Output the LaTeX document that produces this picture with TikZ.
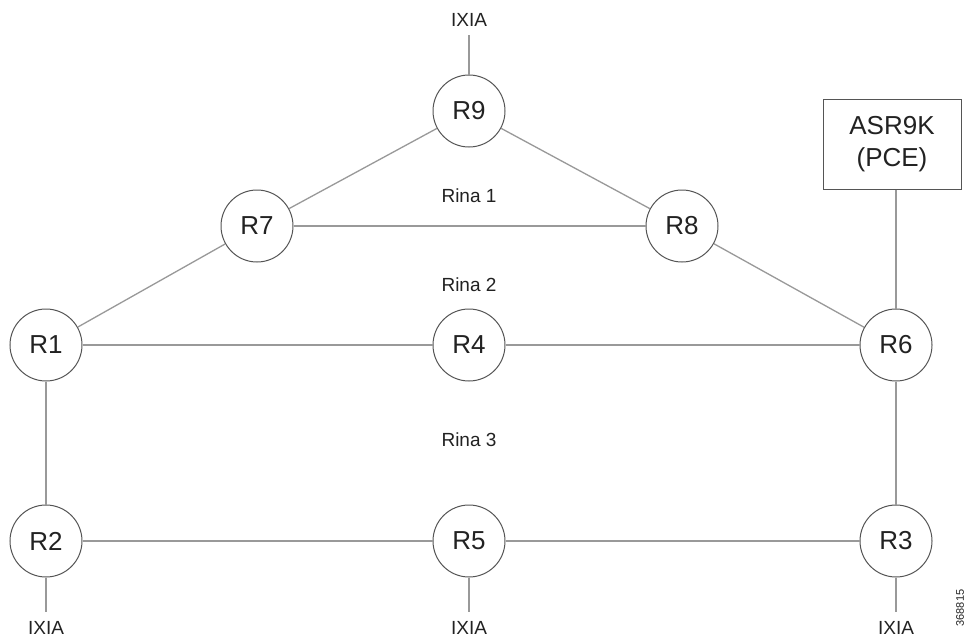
\documentclass[tikz,border=0pt]{standalone}
\usepackage{fontspec}
\setmainfont{Liberation Sans}
\definecolor{linkc}{HTML}{999999}
\definecolor{rimc}{HTML}{555555}
\definecolor{txtc}{HTML}{222222}
\begin{document}
\begin{tikzpicture}[x=1pt,y=-1pt,
  router/.style={circle,draw=rimc,line width=1pt,fill=white,minimum size=72pt,inner sep=0pt,font=\fontsize{26}{28}\selectfont,text=txtc},
  lbl/.style={font=\fontsize{19}{22}\selectfont,text=txtc,inner sep=0pt},
  link/.style={draw=linkc,line width=1.3pt},
  pcebox/.style={draw=rimc,line width=1pt,fill=white,minimum width=138pt,minimum height=90pt,align=center,font=\fontsize{26}{32}\selectfont,text=txtc,inner sep=0pt}]
\useasboundingbox (0,0) rectangle (966,640);
\fill[white] (0,0) rectangle (966,640);
% nodes
\node[router] (R9) at (469,111) {R9};
\node[router] (R7) at (257,226) {R7};
\node[router] (R8) at (682,226) {R8};
\node[router] (R1) at (46,345) {R1};
\node[router] (R4) at (469,345) {R4};
\node[router] (R6) at (896,345) {R6};
\node[router] (R2) at (46,541) {R2};
\node[router] (R5) at (469,541) {R5};
\node[router] (R3) at (896,541) {R3};
\node[pcebox] (pce) at (892,144) {ASR9K\\(PCE)};
% labels
\node[lbl] (ix9) at (469,20) {IXIA};
\node[lbl] (ix2) at (46,628) {IXIA};
\node[lbl] (ix5) at (469,628) {IXIA};
\node[lbl] (ix3) at (896,628) {IXIA};
\node[lbl] (rina1) at (469,196) {Rina 1};
\node[lbl] (rina2) at (469,285) {Rina 2};
\node[lbl] (rina3) at (469,440) {Rina 3};
\node[font=\fontsize{11}{12}\selectfont,text=txtc,rotate=90,inner sep=0pt] (fig) at (960,608) {368815};
% end points of IXIA stubs
\coordinate (t9) at (469,35);
\coordinate (t2) at (46,612);
\coordinate (t5) at (469,612);
\coordinate (t3) at (896,612);
% links
\draw[link] (R9) -- (R7);
\draw[link] (R9) -- (R8);
\draw[link] (R7) -- (R8);
\draw[link] (R7) -- (R1);
\draw[link] (R8) -- (R6);
\draw[link] (R1) -- (R4);
\draw[link] (R4) -- (R6);
\draw[link] (R1) -- (R2);
\draw[link] (R6) -- (R3);
\draw[link] (R2) -- (R5);
\draw[link] (R5) -- (R3);
\draw[link] (pce.south -| R6.north) -- (R6.north);
\draw[link] (t9) -- (R9.north);
\draw[link] (R2.south) -- (t2);
\draw[link] (R5.south) -- (t5);
\draw[link] (R3.south) -- (t3);
\end{tikzpicture}
\end{document}
